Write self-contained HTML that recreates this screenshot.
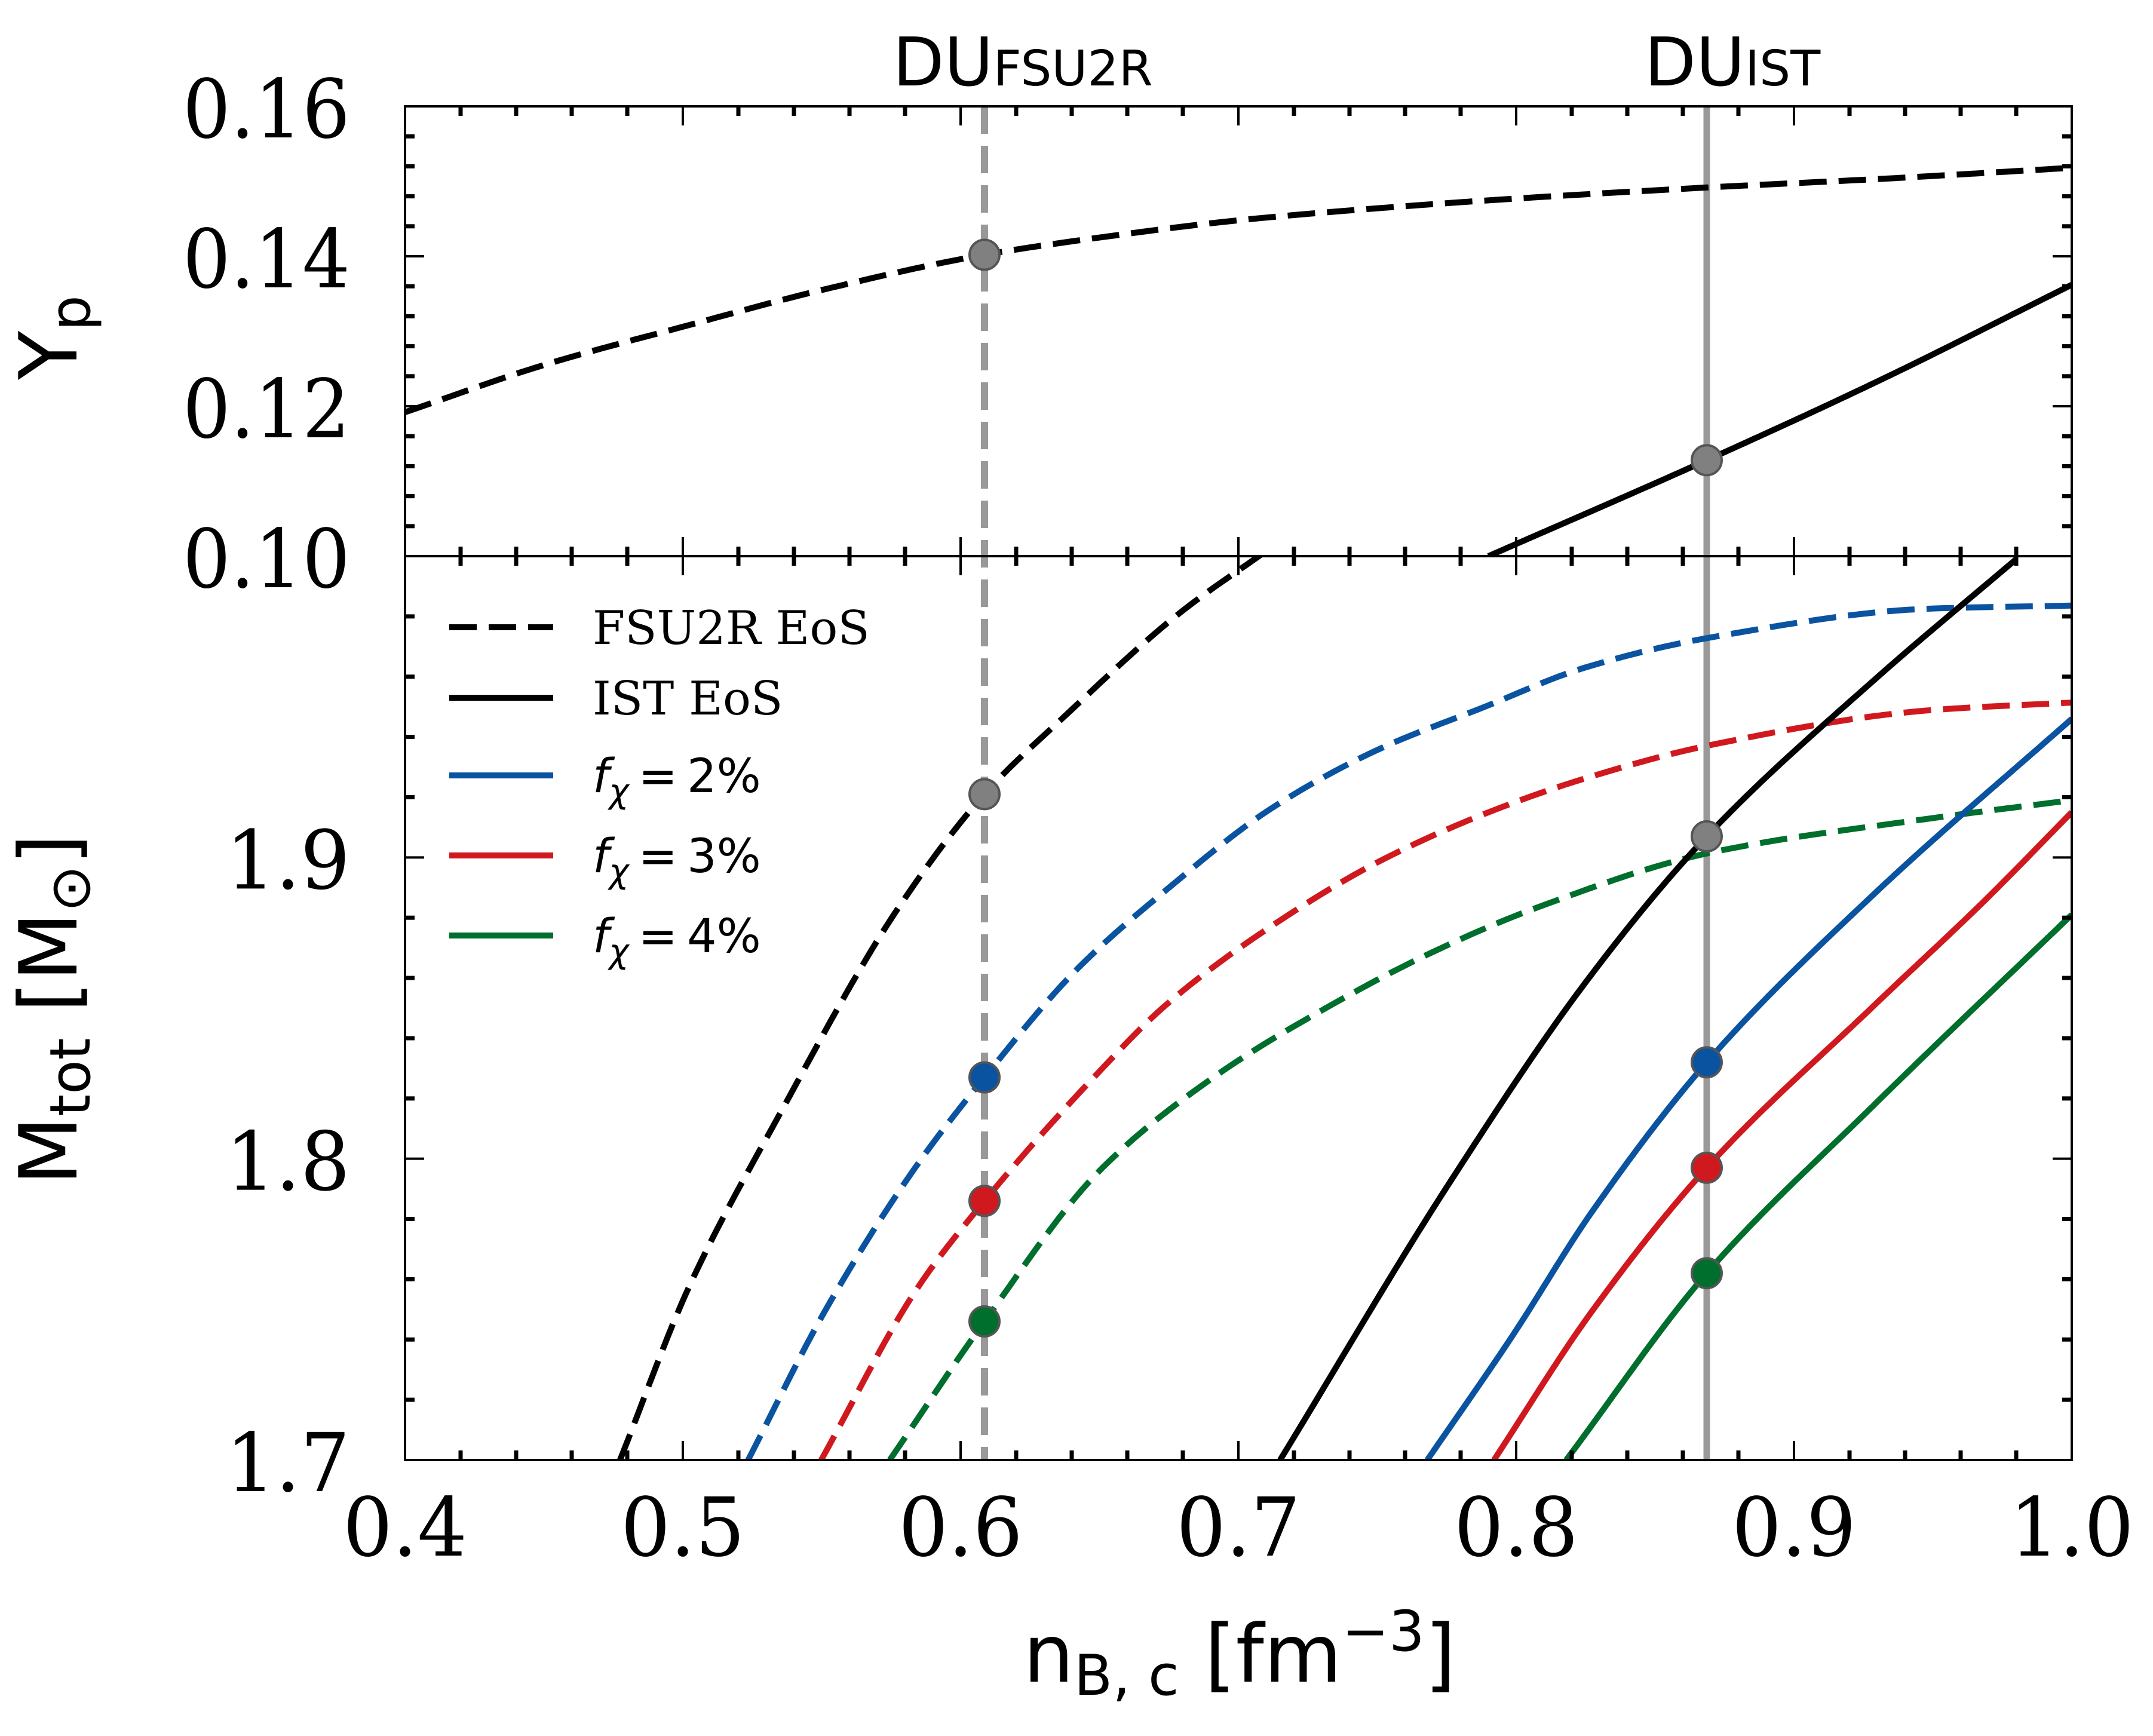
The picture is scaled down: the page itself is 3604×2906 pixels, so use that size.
<!DOCTYPE html>
<html><head><meta charset="utf-8"><style>
html,body{margin:0;padding:0;background:#fff;}
svg{display:block;}
</style></head><body>
<svg id="chart" width="3604" height="2906" viewBox="0 0 3604 2906" xmlns="http://www.w3.org/2000/svg"></svg>
<script>
// ---- data ----
const xTicks = [0.4,0.5,0.6,0.7,0.8,0.9,1.0];
const xTickLabels = ["0.4","0.5","0.6","0.7","0.8","0.9","1.0"];
const ypTicks = [0.10,0.12,0.14,0.16];
const ypTickLabels = ["0.10","0.12","0.14","0.16"];
const mTicks = [1.7,1.8,1.9];
const mTickLabels = ["1.7","1.8","1.9"];
const duFSU2R = 0.6086;
const duIST = 0.8686;
// Yp panel
const ypFsuX = [0.40,0.45,0.50,0.55,0.6086,0.65,0.70,0.75,0.80,0.87,0.93,1.0];
const ypFsuY = [0.1192,0.1255,0.1306,0.1355,0.1402,0.1425,0.1448,0.1464,0.1477,0.1492,0.1503,0.1518];
const ypIstX = [0.790,0.8686,0.93,1.0];
const ypIstY = [0.100,0.1128,0.1233,0.1362];
// Mass panel (dashed FSU2R)
const fsuX = [0.4774,0.502,0.535,0.5774,0.6086,0.6376,0.6787,0.712];
const fsuY = [1.700,1.757,1.815,1.883,1.921,1.947,1.981,2.003];
const fsu2X = [0.5235,0.5515,0.5844,0.6086,0.642,0.6735,0.7119,0.7503,0.7887,0.824,0.8699,0.9495,1.0];
const fsu2Y = [1.700,1.750,1.798,1.827,1.863,1.8888,1.9163,1.9358,1.9500,1.9628,1.973,1.9826,1.9836];
const fsu3X = [0.5498,0.5844,0.6086,0.650,0.6735,0.7119,0.7503,0.7887,0.824,0.8699,0.9495,1.0];
const fsu3Y = [1.700,1.757,1.786,1.829,1.8507,1.8772,1.8985,1.9145,1.926,1.9373,1.9489,1.9514];
const fsu4X = [0.5745,0.6086,0.650,0.691,0.7311,0.7695,0.8079,0.8699,0.9495,1.0];
const fsu4Y = [1.700,1.746,1.796,1.827,1.8498,1.8684,1.8835,1.9016,1.913,1.919];
// Mass panel (solid IST)
const istX = [0.715,0.776,0.827,0.8686,0.929,0.980];
const istY = [1.70,1.792,1.861,1.907,1.959,1.999];
const ist2X = [0.768,0.7985,0.827,0.8686,0.929,1.0];
const ist2Y = [1.70,1.741,1.782,1.832,1.888,1.946];
const ist3X = [0.792,0.827,0.8686,0.929,0.969,1.0];
const ist3Y = [1.70,1.749,1.797,1.851,1.886,1.915];
const ist4X = [0.818,0.8686,0.929,1.0];
const ist4Y = [1.70,1.762,1.818,1.881];

// ---- layout ----
const L=678,R=3468,T=178,S=931,B=2444;
const sx=v=>L+(v-0.4)/0.6*(R-L);
const syP=v=>S-(v-0.10)/0.06*(S-T);
const syM=v=>B-(v-1.7)/0.3*(B-S);
const NS="http://www.w3.org/2000/svg";
const svg=document.getElementById('chart');
function mk(tag,attrs,parent){const e=document.createElementNS(NS,tag);for(const k in attrs)e.setAttribute(k,attrs[k]);(parent||svg).appendChild(e);return e;}
const BLUE="#0a53a0",RED="#d0191f",GREEN="#006e2c";
const LW=10, DASH='46 20';

const defs=mk('defs',{});
const c1=mk('clipPath',{id:'cp1'},defs);mk('rect',{x:L,y:T,width:R-L,height:S-T},c1);
const c2=mk('clipPath',{id:'cp2'},defs);mk('rect',{x:L,y:S,width:R-L,height:B-S},c2);

function monoInterp(xs,ys){
  const n=xs.length,d=[],m=new Array(n);
  for(let i=0;i<n-1;i++)d.push((ys[i+1]-ys[i])/(xs[i+1]-xs[i]));
  m[0]=d[0];m[n-1]=d[n-2];
  for(let i=1;i<n-1;i++){ if(d[i-1]*d[i]<=0)m[i]=0; else { const w1=2*(xs[i+1]-xs[i])+(xs[i]-xs[i-1]), w2=(xs[i+1]-xs[i])+2*(xs[i]-xs[i-1]); m[i]=(w1+w2)/(w1/d[i-1]+w2/d[i]); } }
  return x=>{let i=0;while(i<n-2&&x>xs[i+1])i++;const h=xs[i+1]-xs[i],t=(x-xs[i])/h;
    const h00=2*t*t*t-3*t*t+1,h10=t*t*t-2*t*t+t,h01=-2*t*t*t+3*t*t,h11=t*t*t-t*t;
    return h00*ys[i]+h10*h*m[i]+h01*ys[i+1]+h11*h*m[i+1];};
}
function curve(xs,ys,fy,color,dashed,clip,name){
  const f=monoInterp(xs,ys),N=160,x0=xs[0],x1=xs[xs.length-1];
  let d='';
  for(let k=0;k<=N;k++){const x=x0+(x1-x0)*k/N;d+=(k?'L':'M')+sx(x).toFixed(1)+','+fy(f(x)).toFixed(1);}
  const e=mk('path',{d,fill:'none',stroke:color,'stroke-width':LW,'stroke-dasharray':dashed?DASH:'none','stroke-linejoin':'round','clip-path':`url(#${clip})`});
  
  
}

const v1=mk('line',{x1:sx(duFSU2R),x2:sx(duFSU2R),y1:T,y2:B,stroke:'#999','stroke-width':12,'stroke-dasharray':DASH});

const v2=mk('line',{x1:sx(duIST),x2:sx(duIST),y1:T,y2:B,stroke:'#999','stroke-width':11});


curve(ypFsuX,ypFsuY,syP,'#000',true,'cp1','yp-fsu2r-curve');
curve(ypIstX,ypIstY,syP,'#000',false,'cp1','yp-ist-curve');
curve(fsuX,fsuY,syM,'#000',true,'cp2','mass-fsu2r-curve');
curve(fsu2X,fsu2Y,syM,BLUE,true,'cp2','mass-fsu2r-2pct-curve');
curve(fsu3X,fsu3Y,syM,RED,true,'cp2','mass-fsu2r-3pct-curve');
curve(fsu4X,fsu4Y,syM,GREEN,true,'cp2','mass-fsu2r-4pct-curve');
curve(istX,istY,syM,'#000',false,'cp2','mass-ist-curve');
curve(ist2X,ist2Y,syM,BLUE,false,'cp2','mass-ist-2pct-curve');
curve(ist3X,ist3Y,syM,RED,false,'cp2','mass-ist-3pct-curve');
curve(ist4X,ist4Y,syM,GREEN,false,'cp2','mass-ist-4pct-curve');

function marker(xs,ys,x,fy,color,name){const c=mk('circle',{cx:sx(x),cy:fy(monoInterp(xs,ys)(x)),r:25,fill:color,stroke:'#555','stroke-width':4});}
marker(ypFsuX,ypFsuY,duFSU2R,syP,'#808080','yp-fsu2r-du-point');
marker(ypIstX,ypIstY,duIST,syP,'#808080','yp-ist-du-point');
marker(fsuX,fsuY,duFSU2R,syM,'#808080','mass-fsu2r-du-point');
marker(fsu2X,fsu2Y,duFSU2R,syM,BLUE,'mass-fsu2r-2pct-du-point');
marker(fsu3X,fsu3Y,duFSU2R,syM,RED,'mass-fsu2r-3pct-du-point');
marker(fsu4X,fsu4Y,duFSU2R,syM,GREEN,'mass-fsu2r-4pct-du-point');
marker(istX,istY,duIST,syM,'#808080','mass-ist-du-point');
marker(ist2X,ist2Y,duIST,syM,BLUE,'mass-ist-2pct-du-point');
marker(ist3X,ist3Y,duIST,syM,RED,'mass-ist-3pct-du-point');
marker(ist4X,ist4Y,duIST,syM,GREEN,'mass-ist-4pct-du-point');

const f1=mk('rect',{x:L,y:T,width:R-L,height:S-T,fill:'none',stroke:'#000','stroke-width':4});

const f2=mk('rect',{x:L,y:S,width:R-L,height:B-S,fill:'none',stroke:'#000','stroke-width':4});


const tg=mk('g',{stroke:'#000'});

function tk(x1,y1,x2,y2,w){mk('line',{x1,y1,x2,y2,'stroke-width':w},tg);}
const MJ=32,MN=16;
for(let i=0;i<=30;i++){const v=0.4+i*0.02,x=sx(v),maj=i%5===0,len=maj?MJ:MN,w=maj?4:7;
  [T,S,B].forEach(y=>{ if(y!==T) tk(x,y,x,y-len,w); if(y!==B) tk(x,y,x,y+len,w); });}
for(let i=0;i<=15;i++){const v=0.10+i*0.004,y=syP(v),maj=i%5===0,len=maj?MJ:MN,w=maj?4:7;
  tk(L,y,L+len,y,w);tk(R,y,R-len,y,w);}
for(let i=0;i<=15;i++){const v=1.7+i*0.02,y=syM(v),maj=i%5===0,len=maj?MJ:MN,w=maj?4:7;
  tk(L,y,L+len,y,w);tk(R,y,R-len,y,w);}

const serif='"DejaVu Serif","Liberation Serif",serif', sans='"DejaVu Sans","Liberation Sans",sans-serif';
xTicks.forEach((v,i)=>{const t=mk('text',{x:sx(v),y:2604,'text-anchor':'middle','font-family':serif,'font-size':136,textLength:208,lengthAdjust:'spacingAndGlyphs'});t.textContent=xTickLabels[i];
  });
ypTicks.forEach((v,i)=>{const t=mk('text',{x:586,y:syP(v)+52,'text-anchor':'end','font-family':serif,'font-size':136,textLength:280,lengthAdjust:'spacingAndGlyphs'});t.textContent=ypTickLabels[i];
  });
mTicks.forEach((v,i)=>{const t=mk('text',{x:586,y:syM(v)+52,'text-anchor':'end','font-family':serif,'font-size':136,textLength:208,lengthAdjust:'spacingAndGlyphs'});t.textContent=mTickLabels[i];
  });

const leg=mk('g',{});
const legItems=[['#000',true,'FSU2R EoS',null],['#000',false,'IST EoS',null],[BLUE,false,null,'2%'],[RED,false,null,'3%'],[GREEN,false,null,'4%']];
const legY=[1050,1168,1298,1432,1566];
legItems.forEach((it,i)=>{const y=legY[i];
  const ln=mk('line',{x1:752,x2:926,y1:y,y2:y,stroke:it[0],'stroke-width':LW,'stroke-dasharray':it[1]?DASH:'none'},leg);
  
  const t=mk('text',{x:992,y:y+28,'font-family':it[2]?serif:sans,'font-size':78},leg);
  
  if(it[2]) t.textContent=it[2];
  else { t.innerHTML=`<tspan font-style="italic">f</tspan><tspan font-style="italic" font-size="56" dy="18">χ</tspan><tspan dy="-18" dx="16">=</tspan><tspan dx="16">${it[3]}</tspan>`; }
});

function txt(attrs,html,name){const t=mk('text',attrs);t.innerHTML=html;return t;}
txt({x:1712,y:143,'text-anchor':'middle','font-family':sans,'font-size':112},'DU<tspan font-size="82">FSU2R</tspan>','du-fsu2r-label');
txt({x:2900,y:143,'text-anchor':'middle','font-family':sans,'font-size':112},'DU<tspan font-size="82">IST</tspan>','du-ist-label');
txt({x:2075,y:2815,'text-anchor':'middle','font-family':sans,'font-size':134},'n<tspan font-size="94" dy="22">B, c</tspan><tspan dy="-22"> [fm</tspan><tspan font-size="94" dy="-52">−3</tspan><tspan dy="52">]</tspan>','x-axis-title');
txt({x:0,y:0,'text-anchor':'middle','font-family':sans,'font-size':134,transform:'translate(128,565) rotate(-90)'},'Y<tspan font-size="94" dy="22">p</tspan>','yp-axis-title');
txt({x:0,y:0,'text-anchor':'middle','font-family':sans,'font-size':134,transform:'translate(128,1690) rotate(-90)'},'M<tspan font-size="94" dy="22">tot</tspan><tspan dy="-22"> [M</tspan><tspan font-size="94" dy="22">⊙</tspan><tspan dy="-22">]</tspan>','mass-axis-title');
</script>
</body></html>
